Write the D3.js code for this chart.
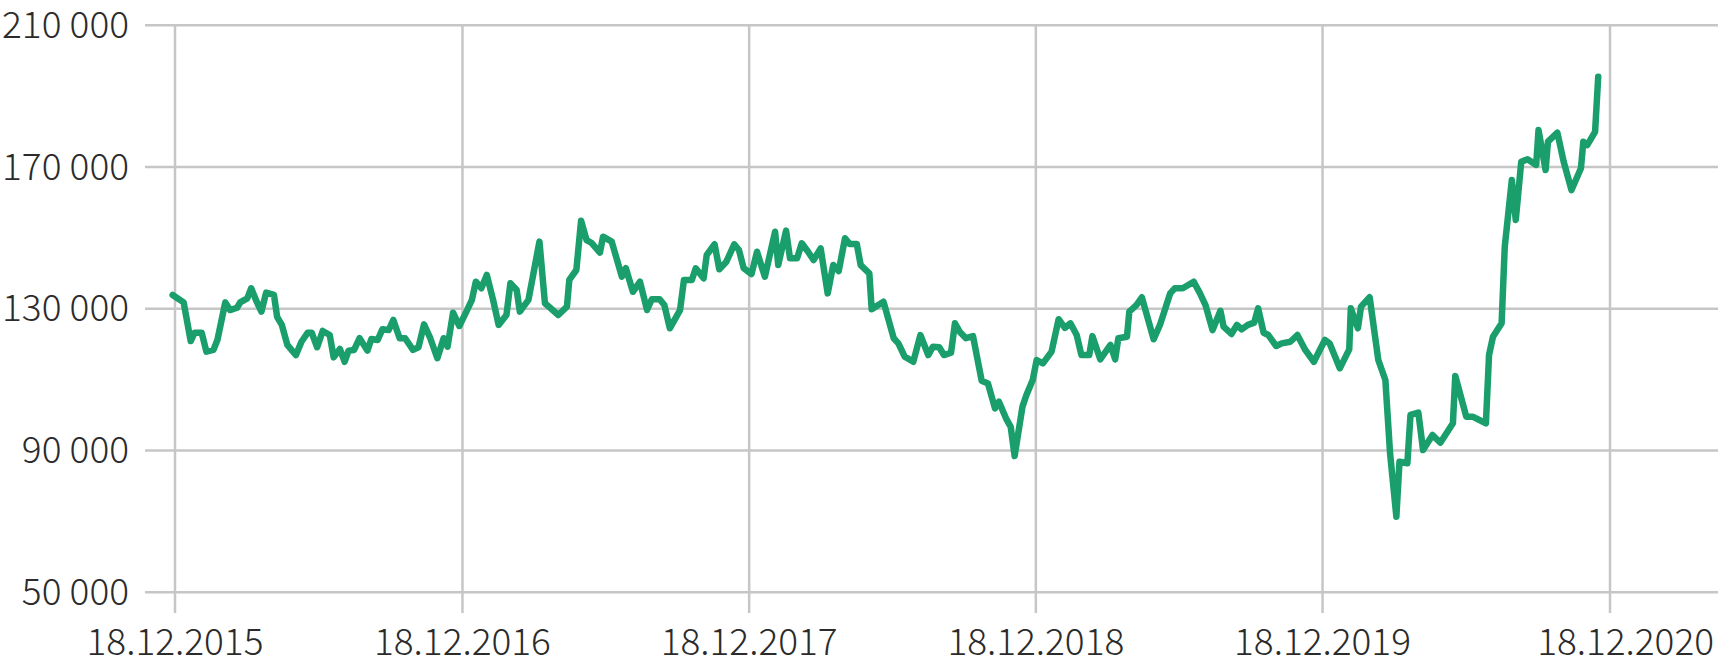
<!DOCTYPE html>
<html>
<head>
<meta charset="utf-8">
<script src="https://cdn.jsdelivr.net/npm/d3@7/dist/d3.min.js"></script>
<style>
  html, body { margin: 0; padding: 0; background: #fff; }
  svg { display: block; }
  text { font-family: "Noto Sans CJK SC", "Noto Sans", sans-serif; font-weight: 300; fill: #2b2b2b; }
</style>
</head>
<body>
<svg id="chart" width="1718" height="658"></svg>
<script>
const dates = [
"2015-12-15","2015-12-29","2016-01-07","2016-01-12","2016-01-21","2016-01-27","2016-02-05","2016-02-10","2016-02-20","2016-02-26",
"2016-03-06","2016-03-10","2016-03-19","2016-03-24","2016-03-31","2016-04-06","2016-04-12","2016-04-22","2016-04-26","2016-05-02",
"2016-05-09","2016-05-20","2016-05-27","2016-06-04","2016-06-09","2016-06-16","2016-06-23","2016-07-02","2016-07-07","2016-07-15",
"2016-07-21","2016-07-26","2016-08-02","2016-08-09","2016-08-19","2016-08-24","2016-09-01","2016-09-07","2016-09-15","2016-09-21",
"2016-09-29","2016-10-06","2016-10-16","2016-10-23","2016-10-30","2016-11-07","2016-11-16","2016-11-24","2016-11-29","2016-12-06",
"2016-12-14","2016-12-23","2016-12-30","2017-01-04","2017-01-11","2017-01-18","2017-01-26","2017-02-02","2017-02-12","2017-02-17",
"2017-02-25","2017-03-01","2017-03-12","2017-03-26","2017-04-02","2017-04-19","2017-04-30","2017-05-03","2017-05-12","2017-05-18",
"2017-05-25","2017-05-31","2017-06-11","2017-06-15","2017-06-26","2017-07-09","2017-07-14","2017-07-23","2017-08-01","2017-08-10",
"2017-08-16","2017-08-26","2017-09-01","2017-09-08","2017-09-21","2017-09-26","2017-10-06","2017-10-11","2017-10-21","2017-10-25",
"2017-11-04","2017-11-10","2017-11-19","2017-11-29","2017-12-05","2017-12-11","2017-12-21","2017-12-28","2018-01-07","2018-01-20",
"2018-01-24","2018-02-03","2018-02-08","2018-02-17","2018-02-23","2018-03-03","2018-03-10","2018-03-19","2018-03-28","2018-04-04",
"2018-04-11","2018-04-19","2018-04-25","2018-05-04","2018-05-09","2018-05-20","2018-05-23","2018-06-07","2018-06-20","2018-06-26",
"2018-07-04","2018-07-15","2018-07-24","2018-08-03","2018-08-09","2018-08-17","2018-08-23","2018-09-01","2018-09-06","2018-09-12",
"2018-09-20","2018-09-29","2018-10-10","2018-10-18","2018-10-27","2018-11-01","2018-11-10","2018-11-16","2018-11-21","2018-12-01",
"2018-12-06","2018-12-14","2018-12-19","2018-12-27","2019-01-07","2019-01-16","2019-01-24","2019-01-31","2019-02-08","2019-02-14",
"2019-02-24","2019-02-28","2019-03-10","2019-03-23","2019-03-29","2019-04-02","2019-04-13","2019-04-16","2019-04-25","2019-05-02",
"2019-05-17","2019-05-25","2019-06-07","2019-06-13","2019-06-23","2019-06-30","2019-07-07","2019-07-15","2019-07-22","2019-07-31",
"2019-08-10","2019-08-14","2019-08-24","2019-08-31","2019-09-06","2019-09-14","2019-09-22","2019-09-27","2019-10-04","2019-10-10",
"2019-10-20","2019-10-27","2019-11-07","2019-11-16","2019-11-26","2019-12-07","2019-12-21","2019-12-27","2020-01-09","2020-01-21",
"2020-01-23","2020-02-01","2020-02-05","2020-02-16","2020-02-27","2020-03-07","2020-03-13","2020-03-21","2020-03-25","2020-04-04",
"2020-04-08","2020-04-18","2020-04-24","2020-05-06","2020-05-16","2020-06-01","2020-06-04","2020-06-18","2020-06-26","2020-07-13",
"2020-07-17","2020-07-22","2020-08-02","2020-08-06","2020-08-15","2020-08-20","2020-08-27","2020-09-04","2020-09-15","2020-09-18",
"2020-09-27","2020-09-30","2020-10-12","2020-10-20","2020-10-30","2020-11-11","2020-11-14","2020-11-19","2020-11-29","2020-12-03"
];

const values = [
133900,131800,120900,123250,123250,117900,118400,121200,131800,129650,
130300,131800,132950,135800,132000,129200,134550,133900,127750,125450,
119800,116950,120700,123250,123250,119150,123750,122600,116300,118650,
115050,118200,118400,121700,118200,121500,121200,124200,124000,126850,
121700,121700,118400,119150,125600,121700,116050,121700,119300,128900,
125150,129200,132500,137650,135800,139550,132500,125450,128250,137200,
135300,129200,132500,148950,131550,128250,130600,138150,140950,154850,
149400,148650,145850,150350,148950,139050,141450,134800,137650,129650,
132700,132700,131050,124500,129650,138150,138150,141450,138600,145200,
148200,141150,143300,148200,146600,141450,139800,146100,139050,151750,
142350,152050,144250,144250,148500,146100,143750,147050,134350,142350,
140650,149900,148300,148300,142350,140000,129850,132000,121700,120250,
116500,115050,122600,116950,119300,119150,116950,117600,125900,123550,
121700,122300,109700,108950,101900,103800,99100,96700,88450,102400,
105700,109900,115550,114600,117900,127050,124600,125900,122600,116950,
116950,122300,115750,119800,115750,121700,122100,129200,131050,133250,
121400,125450,134350,135800,135800,136700,137650,134350,131050,124000,
129450,124950,122900,125450,124200,125450,126100,130150,123250,122600,
119500,120250,120700,122600,118400,115050,121200,120250,113200,118550,
130150,124500,130600,133250,115550,109900,89200,71350,86850,86400,
100050,100700,90150,94400,92200,97700,111050,99550,99550,97700,
116950,122100,125900,147500,166350,155050,171500,172200,170600,180450,
169150,177150,179700,171500,163500,169650,177150,176200,179950,195500
];

const yTicks = [50000, 90000, 130000, 170000, 210000];
const xTickDates = ["2015-12-18","2016-12-18","2017-12-18","2018-12-18","2019-12-18","2020-12-18"];

const parse = d3.timeParse("%Y-%m-%d");
const fmtDate = d3.timeFormat("%d.%m.%Y");
const locale = d3.formatLocale({decimal: ",", thousands: " ", grouping: [3], currency: ["", ""]});
const fmtNum = locale.format(",d");

const data = dates.map((d, i) => ({date: parse(d), value: values[i]}));
const xTicks = xTickDates.map(parse);

const svg = d3.select("#chart");

const x = d3.scaleTime().domain([xTicks[0], xTicks[xTicks.length - 1]]).range([175, 1610]);
const y = d3.scaleLinear().domain([50000, 210000]).range([592.3, 25.3]);

const gridColor = "#c6c6c6";

// horizontal gridlines
svg.append("g").selectAll("line.h").data(yTicks).join("line")
  .attr("class", "h")
  .attr("x1", 145).attr("x2", 1718)
  .attr("y1", d => y(d)).attr("y2", d => y(d))
  .attr("stroke", gridColor).attr("stroke-width", 2.5);

// vertical gridlines
svg.append("g").selectAll("line.v").data(xTicks).join("line")
  .attr("class", "v")
  .attr("x1", d => x(d)).attr("x2", d => x(d))
  .attr("y1", y(210000)).attr("y2", 613)
  .attr("stroke", gridColor).attr("stroke-width", 2.5);

// y labels
svg.append("g").selectAll("text.yl").data(yTicks).join("text")
  .attr("class", "yl")
  .attr("x", 129)
  .attr("y", d => y(d) + 12.5)
  .attr("text-anchor", "end")
  .attr("font-size", 37)
  .text(d => fmtNum(d));

// x labels
svg.append("g").selectAll("text.xl").data(xTicks).join("text")
  .attr("class", "xl")
  .attr("x", (d, i) => i === xTicks.length - 1 ? 1714 : x(d))
  .attr("y", 655)
  .attr("text-anchor", (d, i) => i === xTicks.length - 1 ? "end" : "middle")
  .attr("font-size", 37)
  .text(d => fmtDate(d));

// line
const line = d3.line().x(d => x(d.date)).y(d => y(d.value));
svg.append("path")
  .datum(data)
  .attr("d", line)
  .attr("fill", "none")
  .attr("stroke", "#1a9e6b")
  .attr("stroke-width", 6.5)
  .attr("stroke-linejoin", "round")
  .attr("stroke-linecap", "round");
</script>
</body>
</html>
